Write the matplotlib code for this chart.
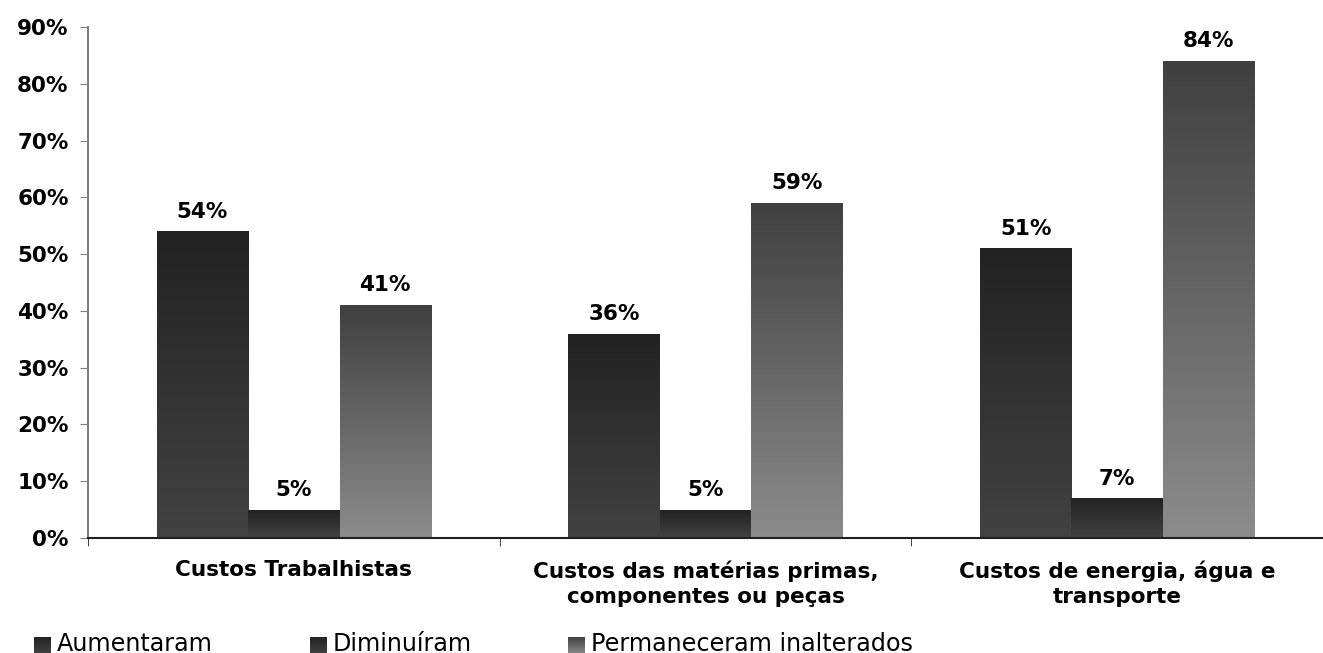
import numpy as np
import matplotlib
matplotlib.use('Agg')
import matplotlib.pyplot as plt
from matplotlib.colors import LinearSegmentedColormap
from matplotlib.ticker import FuncFormatter

# Data
categories = ['Custos Trabalhistas',
              'Custos das matérias primas,\ncomponentes ou peças',
              'Custos de energia, água e\ntransporte']
series_names = ['Aumentaram', 'Diminuíram', 'Permaneceram inalterados']
aumentaram = [54, 36, 51]
diminuiram = [5, 5, 7]
permaneceram = [41, 59, 84]
series_values = [aumentaram, diminuiram, permaneceram]

# gradients (top colour, bottom colour)
grads = [('#222222', '#424242'), ('#222222', '#424242'), ('#404040', '#8c8c8c')]

W, H = 1323, 653
fig = plt.figure(figsize=(W/100, H/100), dpi=100)
ax = fig.add_axes([88/W, 1-538/H, 1-88/W, (538-27)/H])

width = 0.222
x = np.arange(len(categories))
grad_img = np.linspace(0, 1, 256).reshape(-1, 1)

for i, (vals, (c_top, c_bot)) in enumerate(zip(series_values, grads)):
    cmap = LinearSegmentedColormap.from_list('g%d' % i, [c_top, c_bot])
    pos = x + (i - 1)*width
    bars = ax.bar(pos, vals, width, color='none', edgecolor='none', zorder=2)
    for b, v in zip(bars, vals):
        x0, y0 = b.get_x(), b.get_y()
        im = ax.imshow(grad_img, cmap=cmap, aspect='auto', zorder=2,
                       extent=[x0, x0 + b.get_width(), y0, y0 + b.get_height()])
        im.set_clip_path(b)
        ax.annotate('%d%%' % v, (x0 + b.get_width()/2, v), xytext=(0, 7),
                    textcoords='offset points', ha='center', va='bottom',
                    fontsize=15.5, fontweight='bold', color='black')

ax.set_xlim(-0.5, -0.5 + (W-88)/414.5)
ax.set_ylim(0, 90)
ax.set_yticks(np.arange(0, 91, 10))
ax.yaxis.set_major_formatter(FuncFormatter(lambda v, p: '%d%%' % v))
ax.set_xticks(x)
ax.set_xticklabels(categories, fontsize=15.5, fontweight='bold', linespacing=1.35)
ax.set_xticks([-0.5, 0.5, 1.5, 2.5], minor=True)
ax.tick_params(axis='x', which='major', length=0, pad=16)
ax.tick_params(axis='x', which='minor', length=6, color='#202020', direction='out')
ax.tick_params(axis='y', length=6, color='#808080', labelsize=15.5, pad=8)
for lab in ax.get_yticklabels():
    lab.set_fontweight('bold')

for s in ['top', 'right']:
    ax.spines[s].set_visible(False)
ax.spines['left'].set_color('#808080')
ax.spines['left'].set_linewidth(1.5)
ax.spines['bottom'].set_color('#202020')
ax.spines['bottom'].set_linewidth(1.5)

# legend (manual, fixed positions as in the original)
leg_x = [34, 310, 568]
for i, (name, (c_top, c_bot)) in enumerate(zip(series_names, grads)):
    cmap = LinearSegmentedColormap.from_list('l%d' % i, [c_top, c_bot])
    lax = fig.add_axes([leg_x[i]/W, 1-654/H, 17/W, 17/H])
    lax.imshow(grad_img, cmap=cmap, aspect='auto')
    lax.axis('off')
    fig.text((leg_x[i] + 23)/W, 1-651/H, name, fontsize=17.2,
             va='baseline', ha='left', color='black')

fig.savefig('out.png', dpi=100)
